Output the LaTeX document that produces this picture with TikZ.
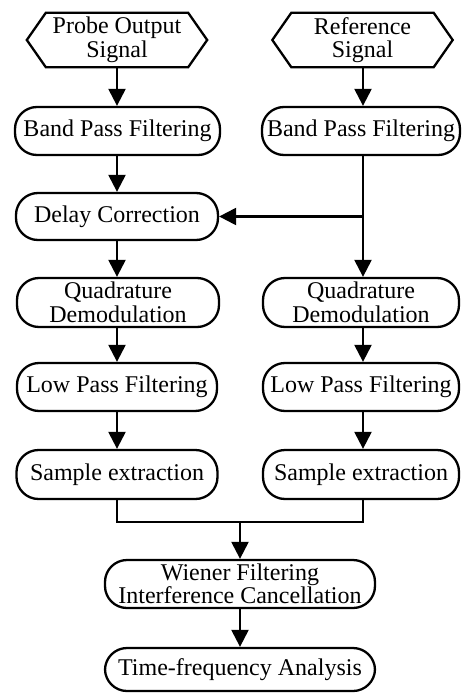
\documentclass[tikz,border=0pt]{standalone}
\usepackage{fontspec}
\setmainfont{Liberation Serif}
\usetikzlibrary{arrows.meta}
\begin{document}
\begin{tikzpicture}[x=1pt,y=-1pt,
  every node/.style={font=\fontsize{24}{23.5}\selectfont, align=center, inner sep=0pt},
  stepbox/.style={draw, line width=2.3pt, rounded corners=22pt, minimum height=48pt},
  hexlabel/.style={minimum width=180pt, minimum height=54pt},
  hexline/.style={line width=2.3pt, line join=miter},
  link/.style={line width=2.3pt},
  arr/.style={line width=2.3pt, -{Triangle[length=17pt,width=17pt]}}
]
\useasboundingbox (0,0) rectangle (461,693);

% input signals
\node[hexlabel] (p) at (117,40) {Probe Output\\Signal};
\node[hexlabel] (r) at (362.5,40) {Reference\\Signal};
\foreach \h in {p,r}{
  \draw[hexline] ([xshift=19pt]\h.north west) -- ([xshift=-19pt]\h.north east) -- (\h.east)
    -- ([xshift=-19pt]\h.south east) -- ([xshift=19pt]\h.south west) -- (\h.west) -- cycle;
}

% left chain
\node[stepbox, minimum width=205pt] (bpfL) at (117.5,131) {Band Pass Filtering};
\node[stepbox, minimum width=202pt, minimum height=47pt] (dc) at (117,216.5) {Delay Correction};
\node[stepbox, minimum width=202pt, minimum height=49pt] (qdL) at (118,302.5) {Quadrature\\Demodulation};
\node[stepbox, minimum width=200pt] (lpfL) at (117,387) {Low Pass Filtering};
\node[stepbox, minimum width=201pt, minimum height=49pt] (seL) at (117,474.5) {Sample extraction};

% right chain
\node[stepbox, minimum width=198pt] (bpfR) at (361,131) {Band Pass Filtering};
\node[stepbox, minimum width=196pt, minimum height=49pt] (qdR) at (361,302.5) {Quadrature\\Demodulation};
\node[stepbox, minimum width=196pt] (lpfR) at (361,387) {Low Pass Filtering};
\node[stepbox, minimum width=196pt, minimum height=49pt] (seR) at (361,474.5) {Sample extraction};

% merged stages
\node[stepbox, minimum width=270pt] (wf) at (240,584) {Wiener Filtering\\[-1pt]Interference Cancellation};
\node[stepbox, minimum width=270pt, minimum height=43pt] (tf) at (240,669.5) {Time-frequency Analysis};

% junction points
\coordinate (j) at (363,216.5);
\coordinate (m) at (240,522);

% connectors
\draw[arr] (p.south) -- (p.south |- bpfL.north);
\draw[arr] (bpfL.south -| p.south) -- (dc.north -| p.south);
\draw[arr] (dc.south -| p.south) -- (qdL.north -| p.south);
\draw[arr] (qdL.south -| p.south) -- (lpfL.north -| p.south);
\draw[arr] (lpfL.south -| p.south) -- (seL.north -| p.south);

\draw[arr] (r.south -| j) -- (bpfR.north -| j);
\draw[link] (bpfR.south -| j) -- (j);
\draw[arr] (j) -- (dc.east);
\draw[arr] (j) -- (qdR.north -| j);
\draw[arr] (qdR.south -| j) -- (lpfR.north -| j);
\draw[arr] (lpfR.south -| j) -- (seR.north -| j);

\draw[link] (seL.south -| p.south) |- (m) -| (seR.south -| j);
\draw[arr] (m) -- (wf.north);
\draw[arr] (wf.south) -- (tf.north);
\end{tikzpicture}
\end{document}
